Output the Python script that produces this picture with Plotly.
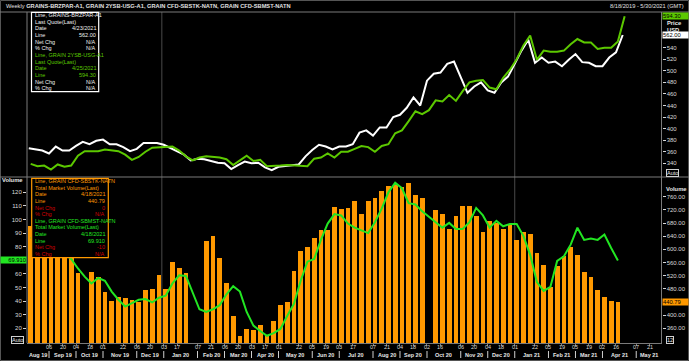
import plotly.graph_objects as go
import pandas as pd

W, H = 689, 361

# ---------------- data ----------------
week_sun = pd.date_range("2019-08-18", "2021-04-25", freq="7D")      # 89 Sundays
brzpar_dates = week_sun - pd.Timedelta(days=2)                          # Fridays
usg_dates = week_sun
vol_dates = week_sun[:88]

brzpar = [366, 364, 362, 357, 369, 362, 362, 370, 377, 373, 379, 381, 373, 373, 368, 361,
          365, 375, 375, 375, 372, 366, 361, 355, 345, 348, 347, 344, 341, 340, 330, 337,
          343, 340, 341, 333, 328, 334, 335, 336, 338, 352, 363, 372, 369, 364, 369, 369,
          373, 393, 397, 388, 402, 402, 420, 424, 436, 454, 440, 483, 495, 497, 512, 516,
          488, 462, 473, 480, 466, 462, 480, 490, 512, 535, 554, 514, 523, 514, 516, 508,
          519, 529, 515, 514, 508, 508, 523, 532, 562.00]

usg = [339, 335, 336, 329, 338, 334, 336, 353, 361, 361, 361, 364, 363, 361, 355, 346,
       351, 360, 367, 368, 369, 369, 362, 352, 345, 350, 352, 351, 350, 347, 337, 345,
       353, 344, 346, 335, 335, 336, 337, 336, 335, 335, 348, 350, 357, 350, 360, 360,
       365, 370, 368, 360, 370, 373, 392, 397, 413, 430, 425, 432, 449, 447, 458, 448,
       465, 480, 483, 484, 471, 468, 488, 502, 520, 544, 561, 519, 535, 533, 533, 535,
       546, 555, 549, 549, 538, 540, 540, 551, 594.30]

sbstk = [670, 690, 700, 680, 660, 650, 620, 528, None, 532, 515, 469, 442, 455, 453, 447,
         440, 475, 480, 523, 480, 561, 543, 527, None, None, 625, 640, 573, 498, 397, 338,
         358, 355, 370, 340, 382, 430, 439, 535, 595, 607, 634, 658, 660, 730, 724, 727,
         747, 708, 747, 756, 778, 792, 795, 788, 802, 765, 755, None, 720, 708, 663, 702,
         732, 732, 702, 652, 687, 680, 663, 675, 627, 653, 647, 588, 553, 485, 549, 580,
         606, 582, 531, 516, 477, 456, 444, 440.79]

sbmst = [86, 88, 84, 80, 79, 75, 71, 64, 58, 53, 57, 55, 47, 41, 36, 38.5,
         41, 41.5, 39, 42.5, 44, 53, 59, 58.5, 46, 34, 32, 34, 37, 45, 51, 47,
         32, 22, 18, 14.5, 16.5, 19.5, 29, 38, 55, 69, 71, 85, 97, 104, 103, 97,
         94, 92, 90, 98, 108, 120, 127, 123, 112, 111, 106, 102, 98, 94, 97.5, 93,
         93, 98, 108.5, 103, 94, 99, 95, 96.7, 96.7, 88, 74, 54, 47.5, 50.5, 69.5, 73,
         81.5, 94, 85, 86, 85, 89, 79, 69.91]

tick_dates = ["2019-09-06", "2019-09-20", "2019-10-04", "2019-10-18", "2019-11-01", "2019-11-22",
              "2019-12-06", "2019-12-20", "2020-01-03", "2020-01-17", "2020-02-07", "2020-02-21",
              "2020-03-06", "2020-03-20", "2020-04-03", "2020-04-17", "2020-05-01", "2020-05-22",
              "2020-06-05", "2020-06-19", "2020-07-03", "2020-07-17", "2020-08-07", "2020-08-21",
              "2020-09-04", "2020-09-18", "2020-10-02", "2020-10-16", "2020-11-06", "2020-11-20",
              "2020-12-04", "2020-12-18", "2021-01-01", "2021-01-22", "2021-02-05", "2021-02-19",
              "2021-03-05", "2021-03-19", "2021-04-02", "2021-04-16", "2021-05-07", "2021-05-21"]
tick_text = [d[-2:] for d in tick_dates]

month_labels = ["Aug 19", "Sep 19", "Oct 19", "Nov 19", "Dec 19", "Jan 20", "Feb 20", "Mar 20",
                "Apr 20", "May 20", "Jun 20", "Jul 20", "Aug 20", "Sep 20", "Oct 20", "Nov 20",
                "Dec 20", "Jan 21", "Feb 21", "Mar 21", "Apr 21", "May 21"]

price_ticks = [340, 360, 380, 400, 420, 440, 460, 480, 500, 520, 540]
vol_ticks = [360, 400, 480, 520, 560, 600, 640, 680, 720, 760]
mst_ticks = [20, 30, 40, 50, 60, 80, 90, 100, 110, 120]

x_range = [pd.Timestamp("2019-08-14 04:00"), pd.Timestamp("2021-06-02 05:00")]
year_lines = ["2020-01-01", "2021-01-01"]

# ---------------- styles ----------------
FONT = "Liberation Sans, Arial, sans-serif"
WHITE = "#f0f0f0"
LGREEN = "#5cc800"
BGREEN = "#22e622"
ORANGE = "#ff9900"
RED = "#d00000"
GRID = "#7a7a7a"
TICKC = "#d8d8d8"


def PX(x):
    return x / W


def PY(y):
    return 1 - y / H


fig = go.Figure()

fig.add_trace(go.Bar(x=vol_dates, y=sbstk, yaxis="y2", xaxis="x",
                     marker=dict(color=ORANGE, line=dict(width=0)),
                     width=5.0 * 86400000, name="GRAIN CFD-SBSTK-NATN"))
fig.add_trace(go.Scatter(x=vol_dates, y=sbmst, yaxis="y3", xaxis="x", mode="lines",
                         line=dict(color=BGREEN, width=2), name="GRAIN CFD-SBMST-NATN"))
fig.add_trace(go.Scatter(x=brzpar_dates, y=brzpar, yaxis="y", xaxis="x", mode="lines",
                         line=dict(color="#ffffff", width=2), name="GRAINS-BRZPAR-A1"))
fig.add_trace(go.Scatter(x=usg_dates, y=usg, yaxis="y", xaxis="x", mode="lines",
                         line=dict(color=LGREEN, width=2), name="GRAIN 2YSB-USG-A1"))

tickfont = dict(family=FONT, size=6, color=TICKC)

fig.update_layout(
    width=W, height=H, margin=dict(l=0, r=0, t=0, b=0, autoexpand=False),
    paper_bgcolor="#000000", plot_bgcolor="#000000",
    showlegend=False, bargap=0,
    xaxis=dict(domain=[PX(27), PX(661.5)], anchor="y2", type="date", range=x_range,
               automargin=False,
               showgrid=False, zeroline=False, showline=True, linecolor=GRID, linewidth=1,
               tickmode="array", tickvals=tick_dates, showticklabels=False,
               ticks="outside", ticklen=2, tickcolor=GRID),
    yaxis=dict(domain=[PY(177), PY(12)], anchor="x", side="right", range=[316.3, 601.8],
               automargin=False,
               tickmode="array", tickvals=price_ticks,
               showgrid=False, zeroline=False, showline=False,
               ticks="outside", ticklen=3, tickcolor=TICKC, tickfont=tickfont),
    yaxis2=dict(domain=[PY(343), PY(177)], anchor="x", side="right", range=[315.3, 819.9],
                automargin=False,
                tickmode="array", tickvals=vol_ticks, tickformat=".2f",
                showgrid=False, zeroline=False, showline=False,
                ticks="outside", ticklen=3, tickcolor=TICKC, tickfont=tickfont),
    yaxis3=dict(overlaying="y2", anchor="x", side="left", range=[9.19, 131.25],
                automargin=False,
                tickmode="array", tickvals=mst_ticks,
                showgrid=False, zeroline=False, showline=False,
                ticks="outside", ticklen=3, tickcolor=TICKC, tickfont=tickfont),
)

shapes = []
line = dict(color=GRID, width=1)
shapes.append(dict(type="rect", xref="paper", yref="paper", x0=PX(0.5), x1=PX(688.5),
                   y0=PY(360.5), y1=PY(0.5), line=dict(color="#555555", width=1)))
shapes.append(dict(type="line", xref="paper", yref="paper", x0=0, x1=1, y0=PY(12), y1=PY(12), line=line))
shapes.append(dict(type="line", xref="paper", yref="paper", x0=0, x1=1, y0=PY(177), y1=PY(177), line=line))
shapes.append(dict(type="line", xref="paper", yref="paper", x0=PX(27), x1=PX(27), y0=PY(343), y1=PY(12), line=line))
shapes.append(dict(type="line", xref="paper", yref="paper", x0=PX(661.5), x1=PX(661.5), y0=PY(343), y1=PY(12), line=line))
for d in year_lines:
    shapes.append(dict(type="line", xref="x", yref="paper", x0=d, x1=d, y0=PY(343), y1=PY(12),
                       line=dict(color="#4a4a4a", width=1), layer="below"))

seps = []
seen = set()
for d in tick_dates:
    if d[:7] not in seen:
        seen.add(d[:7])
        seps.append(pd.Timestamp(d))
for s in seps:
    shapes.append(dict(type="line", xref="x", yref="paper", x0=s, x1=s, y0=PY(358), y1=PY(351),
                       line=dict(color="#cfcfcf", width=1)))
bounds = [x_range[0]] + seps + [x_range[1]]

annotations = []
# day labels under the ticks
for d, t in zip(tick_dates, tick_text):
    annotations.append(dict(x=d, y=PY(347), xref="x", yref="paper", text=t,
                            showarrow=False, xanchor="center", yanchor="middle",
                            font=dict(family=FONT, size=5.5, color=TICKC)))
# month labels centred between month separators
for i, lab in enumerate(month_labels):
    mid = bounds[i] + (bounds[i + 1] - bounds[i]) / 2
    annotations.append(dict(x=mid, y=PY(354.5), xref="x", yref="paper", text="<b>%s</b>" % lab,
                            showarrow=False, xanchor="center", yanchor="middle",
                            font=dict(family=FONT, size=5.5, color="#e8e8e8")))

shapes.append(dict(type="rect", xref="paper", yref="paper", x0=PX(31.5), x1=PX(98.7),
                   y0=PY(91.7), y1=PY(12.3), line=dict(color="#ffffff", width=1.2),
                   fillcolor="#000000", layer="above"))
shapes.append(dict(type="rect", xref="paper", yref="paper", x0=PX(31.7), x1=PX(108.3),
                   y0=PY(257.7), y1=PY(178.3), line=dict(color=ORANGE, width=1.2),
                   fillcolor="#000000", layer="above"))

up_rows = [("Line, GRAINS-BRZPAR-A1", "", WHITE), ("Last Quote(Last)", "", WHITE),
           ("Date", "4/23/2021", WHITE), ("Line", "562.00", WHITE),
           ("Net Chg", "N/A", WHITE), ("% Chg", "N/A", WHITE),
           ("Line, GRAIN 2YSB-USG-A1", "", LGREEN), ("Last Quote(Last)", "", LGREEN),
           ("Date", "4/25/2021", LGREEN), ("Line", "594.30", LGREEN),
           ("Net Chg", "N/A", WHITE), ("% Chg", "N/A", WHITE)]
lo_rows = [("Line, GRAIN CFD-SBSTK-NATN", "", ORANGE), ("Total Market Volume(Last)", "", ORANGE),
           ("Date", "4/18/2021", ORANGE), ("Line", "440.79", ORANGE),
           ("Net Chg", "0", RED), ("% Chg", "N/A", RED),
           ("Line, GRAIN CFD-SBMST-NATN", "", BGREEN), ("Total Market Volume(Last)", "", BGREEN),
           ("Date", "4/18/2021", BGREEN), ("Line", "69.910", BGREEN),
           ("Net Chg", "-10", RED), ("% Chg", "N/A", RED)]


def add_rows(rows, x_left, x_right, y_top, step):
    for k, (lab, val, col) in enumerate(rows):
        yy = PY(y_top + k * step)
        annotations.append(dict(x=PX(x_left), y=yy, xref="paper", yref="paper", text=lab,
                                showarrow=False, xanchor="left", yanchor="middle",
                                font=dict(family=FONT, size=5.5, color=col)))
        if val:
            annotations.append(dict(x=PX(x_right), y=yy, xref="paper", yref="paper", text=val,
                                    showarrow=False, xanchor="right", yanchor="middle",
                                    font=dict(family=FONT, size=5.5, color=col)))


add_rows(up_rows, 32.5, 97.5, 15.2, 6.64)
add_rows(lo_rows, 33, 107, 181.2, 6.6)

annotations.append(dict(x=PX(4), y=PY(6), xref="paper", yref="paper",
                        text="Weekly <b>GRAINS-BRZPAR-A1, GRAIN 2YSB-USG-A1, GRAIN CFD-SBSTK-NATN, GRAIN CFD-SBMST-NATN</b>",
                        showarrow=False, xanchor="left", yanchor="middle",
                        font=dict(family=FONT, size=5.7, color="#e0e0e0")))
annotations.append(dict(x=PX(686), y=PY(6), xref="paper", yref="paper",
                        text="8/18/2019 - 5/30/2021 (GMT)", showarrow=False,
                        xanchor="right", yanchor="middle",
                        font=dict(family=FONT, size=5.7, color="#e0e0e0")))

for txt, x, y, anc in [("<b>Price</b>", 665, 22.6, "left"), ("<b>USD</b>", 665, 29.7, "left"),
                       ("<b>Volume</b>", 664, 189, "left"), ("<b>Volume</b>", 25, 180, "right")]:
    annotations.append(dict(x=PX(x), y=PY(y), xref="paper", yref="paper", text=txt,
                            showarrow=False, xanchor=anc, yanchor="middle",
                            font=dict(family=FONT, size=5.8, color="#e8e8e8")))


def value_box(text, yval, yref, x, anchor, bg):
    annotations.append(dict(x=PX(x), y=yval, xref="paper", yref=yref, text=text,
                            showarrow=False, xanchor=anchor, yanchor="middle",
                            bgcolor=bg, borderpad=0, width=25, height=6,
                            align="left" if anchor == "left" else "right",
                            font=dict(family=FONT, size=5.8, color="#000000")))


value_box("%.2f" % usg[-1], usg[-1], "y", 662, "left", LGREEN)
value_box("%.2f" % brzpar[-1], brzpar[-1], "y", 662, "left", "#ffffff")
value_box("%.2f" % sbstk[-1], sbstk[-1], "y2", 662, "left", ORANGE)
value_box("%.3f" % sbmst[-1], sbmst[-1], "y3", 26.5, "right", BGREEN)

for txt, x, y in [("Auto", 672, 173.2), ("Auto", 17, 340), ("12", 669.5, 340)]:
    annotations.append(dict(x=PX(x), y=PY(y), xref="paper", yref="paper", text=txt,
                            showarrow=False, xanchor="center", yanchor="middle",
                            bordercolor="#d0d0d0", borderwidth=1, borderpad=0,
                            font=dict(family=FONT, size=5.5, color="#e8e8e8")))

fig.update_layout(shapes=shapes, annotations=annotations)
fig.write_html("out.html", config={"displayModeBar": False},
               post_script="document.body.style.margin='0px';document.body.style.padding='0px';")
